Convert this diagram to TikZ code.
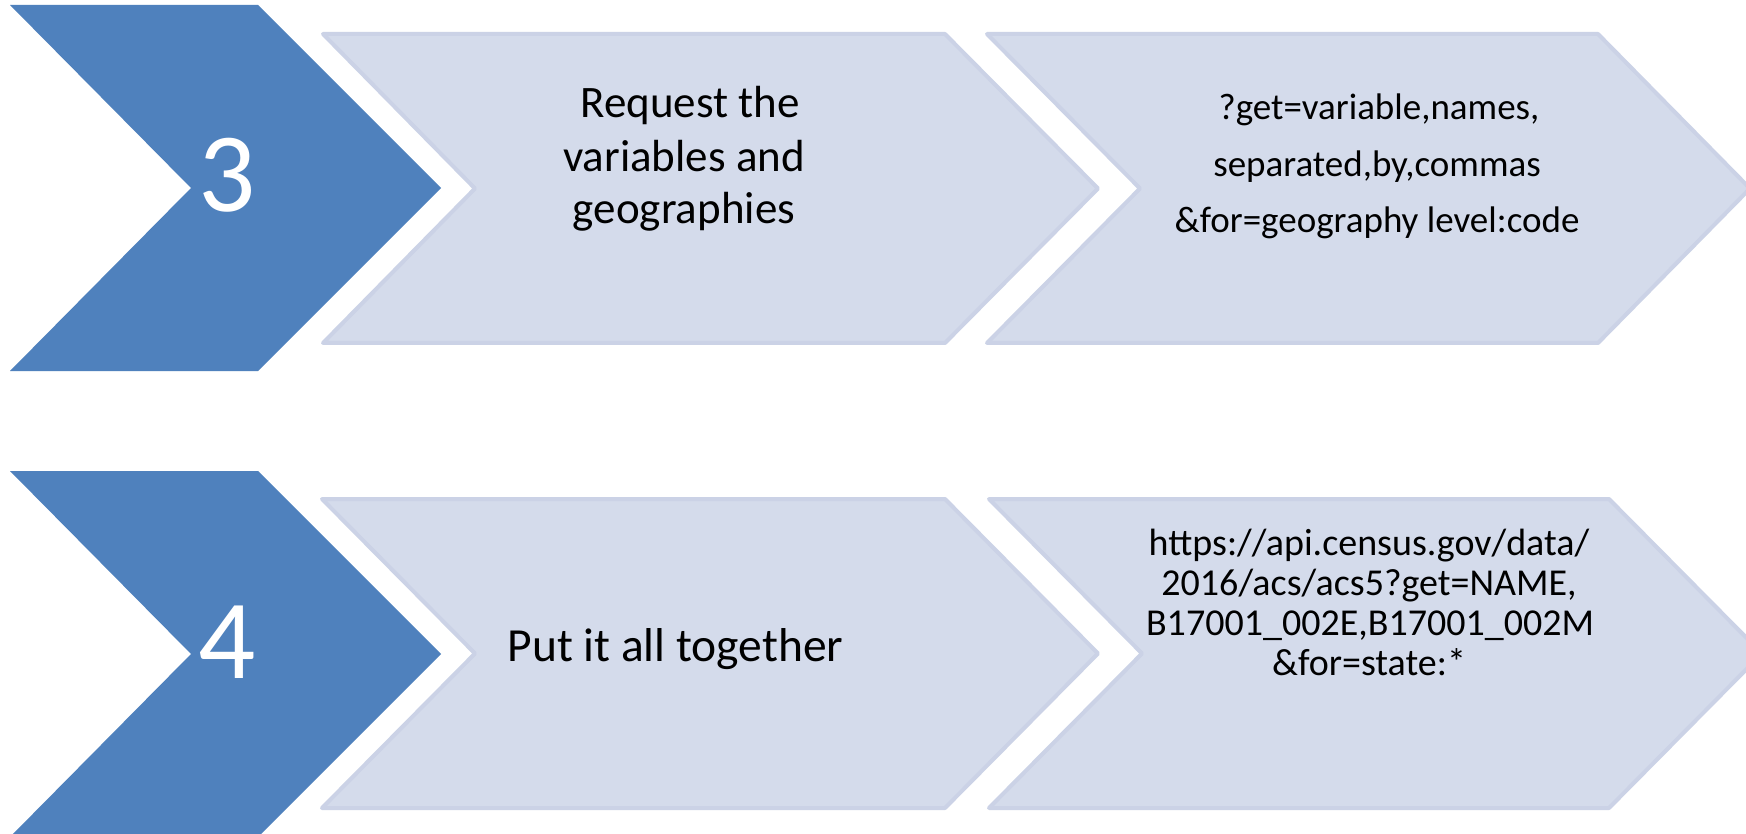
\documentclass[tikz,border=0pt]{standalone}
\usepackage{fontspec}
\setmainfont{Carlito}
\definecolor{stepblue}{HTML}{4F81BD}
\definecolor{lightfill}{HTML}{D4DBEB}
\definecolor{lightedge}{HTML}{CBD2E6}
\begin{document}
\begin{tikzpicture}[x=1pt,y=-1pt,
  bluechev/.style={fill=stepblue},
  lightchev/.style={fill=lightfill,draw=lightedge,line width=4pt,line join=round},
  numtext/.style={text=white,inner sep=0pt,anchor=base,font=\fontsize{113}{130}\selectfont},
  midtext/.style={inner sep=0pt,anchor=base,font=\fontsize{45}{52}\selectfont},
  bigtext/.style={inner sep=0pt,anchor=base,font=\fontsize{47.5}{54}\selectfont},
  codetext/.style={inner sep=0pt,anchor=base,font=\fontsize{37}{44}\selectfont},
  urltext/.style={inner sep=0pt,anchor=base,font=\fontsize{38}{40}\selectfont}]
\useasboundingbox (0,0) rectangle (1746,834);
\clip (0,0) rectangle (1746,834);
\fill[white] (0,0) rectangle (1746,834);
% row 1
\fill[bluechev] (10,5) -- (258,5) -- (441,188) -- (258,371) -- (10,371) -- (191,188) -- cycle;
\filldraw[lightchev] (323,34) -- (945,34) -- (1098,188.5) -- (945,343) -- (323,343) -- (475,188.5) -- cycle;
\filldraw[lightchev] (987,34) -- (1598,34) -- (1750,188.5) -- (1598,343) -- (987,343) -- (1140,188.5) -- cycle;
% row 2
\fill[bluechev] (10,471) -- (258,471) -- (441,654) -- (258,837) -- (10,837) -- (191,654) -- cycle;
\filldraw[lightchev] (322,499) -- (945,499) -- (1098,653.5) -- (945,808) -- (322,808) -- (475,653.5) -- cycle;
\filldraw[lightchev] (989,499) -- (1609,499) -- (1762,653.5) -- (1609,808) -- (989,808) -- (1142,653.5) -- cycle;
% texts
\node[numtext] (n3) at (227.5,212) {3};
\node[numtext] (n4) at (227.5,678) {4};
\node[midtext] (r1a) at (690,118) {Request the};
\node[midtext] (r1b) at (684,171.5) {variables and};
\node[midtext] (r1c) at (684,223.5) {geographies};
\node[codetext] (c1a) at (1379,120) {?get=variable,names,};
\node[codetext] (c1b) at (1377,177) {separated,by,commas};
\node[codetext] (c1c) at (1377,233) {\&for=geography level:code};
\node[bigtext] (p2) at (675.5,661) {Put it all together};
\node[urltext] (u1) at (1369,555) {https://api.census.gov/data/};
\node[urltext] (u2) at (1369,595) {2016/acs/acs5?get=NAME,};
\node[urltext] (u3) at (1370,635) {B17001\_002E,B17001\_002M};
\node[urltext] (u4) at (1369,675) {\&for=state:*};
\end{tikzpicture}
\end{document}
